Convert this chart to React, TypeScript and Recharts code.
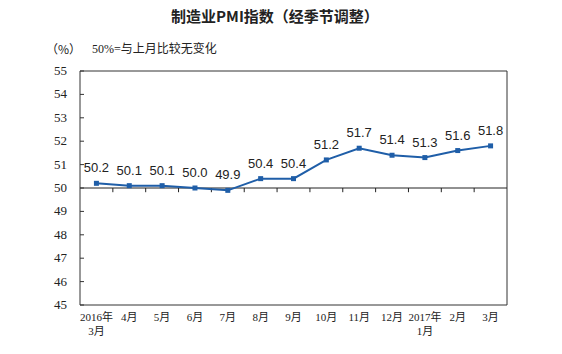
import React from 'react';
import { LineChart, Line, XAxis, YAxis, ReferenceLine, LabelList } from 'recharts';

const months1 = ['2016年', '4月', '5月', '6月', '7月', '8月', '9月', '10月', '11月', '12月', '2017年', '2月', '3月'];
const months2 = ['3月', '', '', '', '', '', '', '', '', '', '1月', '', ''];
const pmi = [50.2, 50.1, 50.1, 50.0, 49.9, 50.4, 50.4, 51.2, 51.7, 51.4, 51.3, 51.6, 51.8];
const yTicks = [45, 46, 47, 48, 49, 50, 51, 52, 53, 54, 55];
const boundaries = [0.5, 1.5, 2.5, 3.5, 4.5, 5.5, 6.5, 7.5, 8.5, 9.5, 10.5, 11.5];

const data = pmi.map((v, i) => ({ i, v }));
const BLUE = '#1f5ea8';
const AXIS = '#333';

const XTick = (props: any) => {
  const { x, y, payload } = props;
  const idx = payload.value;
  return (
    <g>
      <text x={x} y={y} dy={2} textAnchor="middle" fontSize={11} fill="#222" fontFamily="'Liberation Serif','Noto Sans CJK SC',serif">
        {months1[idx]}
      </text>
      {months2[idx] ? (
        <text x={x} y={y} dy={16} textAnchor="middle" fontSize={11} fill="#222" fontFamily="'Liberation Serif','Noto Sans CJK SC',serif">
          {months2[idx]}
        </text>
      ) : null}
    </g>
  );
};

const YTick = (props: any) => {
  const { x, y, payload } = props;
  return (
    <g>
      <text x={x} y={y} dy={4} textAnchor="end" fontSize={13} fill="#222" fontFamily="'Liberation Serif',serif">
        {payload.value}
      </text>
      <line x1={x + 13} x2={x + 17} y1={y} y2={y} stroke={AXIS} strokeWidth={1} />
    </g>
  );
};

const SquareDot = (props: any) => {
  const { cx, cy, index } = props;
  if (cx == null || cy == null) return <g key={index} />;
  return <rect key={index} x={cx - 2.5} y={cy - 2.5} width={5} height={5} fill={BLUE} />;
};

export default function App() {
  return (
    <div style={{ position: 'absolute', left: 0, top: 0, width: 562, height: 354, background: '#fff' }}>
      <div style={{ position: 'absolute', left: 0, width: 550, top: 6, textAlign: 'center', fontSize: 15, fontWeight: 'bold', color: '#222', fontFamily: "'Noto Sans CJK SC', sans-serif", lineHeight: '20px' }}>
        制造业PMI指数（经季节调整）
      </div>
      <div style={{ position: 'absolute', left: 46, top: 41, fontSize: 12, color: '#222', fontFamily: "'Noto Sans CJK SC', sans-serif", lineHeight: '16px' }}>
        （%）
      </div>
      <div style={{ position: 'absolute', left: 92, top: 41, fontSize: 12, color: '#222', fontFamily: "'Liberation Serif','Noto Sans CJK SC', serif", lineHeight: '16px' }}>
        50%=与上月比较无变化
      </div>
      <LineChart width={562} height={354} data={data} margin={{ top: 71, right: 55, bottom: 0, left: 0 }}>
        <XAxis
          dataKey="i"
          type="number"
          domain={[-0.5, 12.5]}
          ticks={[0, 1, 2, 3, 4, 5, 6, 7, 8, 9, 10, 11, 12]}
          interval={0}
          height={49}
          tickLine={false}
          axisLine={{ stroke: AXIS, strokeWidth: 1 }}
          tick={<XTick />}
          tickMargin={8}
        />
        <YAxis
          type="number"
          domain={[45, 55]}
          ticks={yTicks}
          interval={0}
          width={80}
          tickLine={false}
          tickSize={0}
          tickMargin={13}
          axisLine={{ stroke: AXIS, strokeWidth: 1 }}
          tick={<YTick />}
        />
        <ReferenceLine y={55} stroke={AXIS} strokeWidth={1} />
        <ReferenceLine x={12.5} stroke={AXIS} strokeWidth={1} />
        <ReferenceLine y={50} stroke="#222" strokeWidth={1} />
        {boundaries.map((b) => (
          <ReferenceLine
            key={b}
            segment={[{ x: b, y: 50 }, { x: b, y: 49.82 }]}
            stroke="#222"
            strokeWidth={1}
          />
        ))}
        <Line
          type="linear"
          dataKey="v"
          stroke={BLUE}
          strokeWidth={2}
          dot={<SquareDot />}
          activeDot={false}
          isAnimationActive={false}
        >
          <LabelList dataKey="v" position="top" offset={11} fontSize={13} fill="#222" fontFamily="'Liberation Sans', Arial, sans-serif" formatter={(v: any) => Number(v).toFixed(1)} />
        </Line>
      </LineChart>
    </div>
  );
}
